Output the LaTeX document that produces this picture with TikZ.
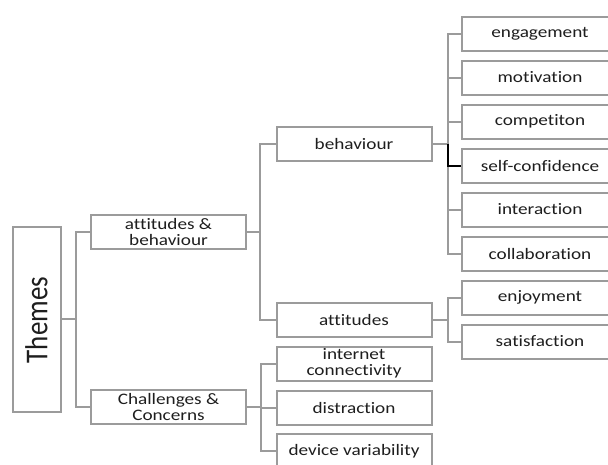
\documentclass[tikz,border=0pt]{standalone}
\usepackage{fontspec}
\setmainfont[FakeStretch=1.2,Ligatures=NoCommon]{Carlito}
\newfontfamily\themesfont[Ligatures=NoCommon]{Carlito}
\definecolor{boxgray}{RGB}{155,155,155}
\definecolor{txtgray}{RGB}{30,30,30}
\begin{document}
\begin{tikzpicture}[x=1pt,y=-1pt,
  box/.style={draw=boxgray, line width=2pt, fill=white, inner sep=0pt,
    minimum width=155pt, minimum height=34pt, align=center, text=txtgray,
    font=\fontsize{16}{16}\selectfont},
  leaf/.style={box, minimum width=156pt},
  link/.style={draw=boxgray, line width=2pt},
  hot/.style={draw=black, line width=2pt}]
\useasboundingbox (0,0) rectangle (608,464);
\clip (0,0) rectangle (608,464);
% nodes
\node[box, minimum width=48pt, minimum height=185pt] (themes) at (36.5,319) {};
\node[rotate=90, text=txtgray, font=\themesfont\fontsize{27}{27}\selectfont] (themestxt) at (36.5,320) {\scalebox{1}[1.18]{Themes}};
\node[box] (ab) at (168.5,231.5) {attitudes \&\\behaviour};
\node[box] (cc) at (168.5,407) {Challenges \&\\Concerns};
\node[box] (beh) at (354,143.5) {behaviour};
\node[box] (att) at (354,319.5) {attitudes};
\node[leaf] (eng) at (540,33.5) {engagement};
\node[leaf] (mot) at (540,77.5) {motivation};
\node[leaf] (comp) at (540,121.5) {competiton};
\node[leaf] (sc) at (540,165.5) {self-confidence};
\node[leaf] (inter) at (540,209.5) {interaction};
\node[leaf] (coll) at (540,253.5) {collaboration};
\node[leaf] (enj) at (540,297.5) {enjoyment};
\node[leaf] (sat) at (540,341.5) {satisfaction};
\node[box] (inet) at (354,363.5) {internet\\connectivity};
\node[box] (dist) at (354,407.5) {distraction};
\node[box] (dev) at (354,451) {device variability};
% connectors
\foreach \t in {ab,cc} \draw[link] (themes.east) -- ++(14,0) |- (\t.west);
\foreach \t in {beh,att} \draw[link] (ab.east) -- ++(13,0) |- (\t.west);
\foreach \t in {eng,mot,comp,inter,coll} \draw[link] (beh.east) -- ++(15,0) |- (\t.west);
\foreach \t in {enj,sat} \draw[link] (att.east) -- ++(15,0) |- (\t.west);
\foreach \t in {inet,dist,dev} \draw[link] (cc.east) -- ++(14,0) |- (\t.west);
\draw[link] (beh.east) -- ++(15,0);
\draw[hot] (beh.east) ++(15,0) |- (sc.west);
\end{tikzpicture}
\end{document}
